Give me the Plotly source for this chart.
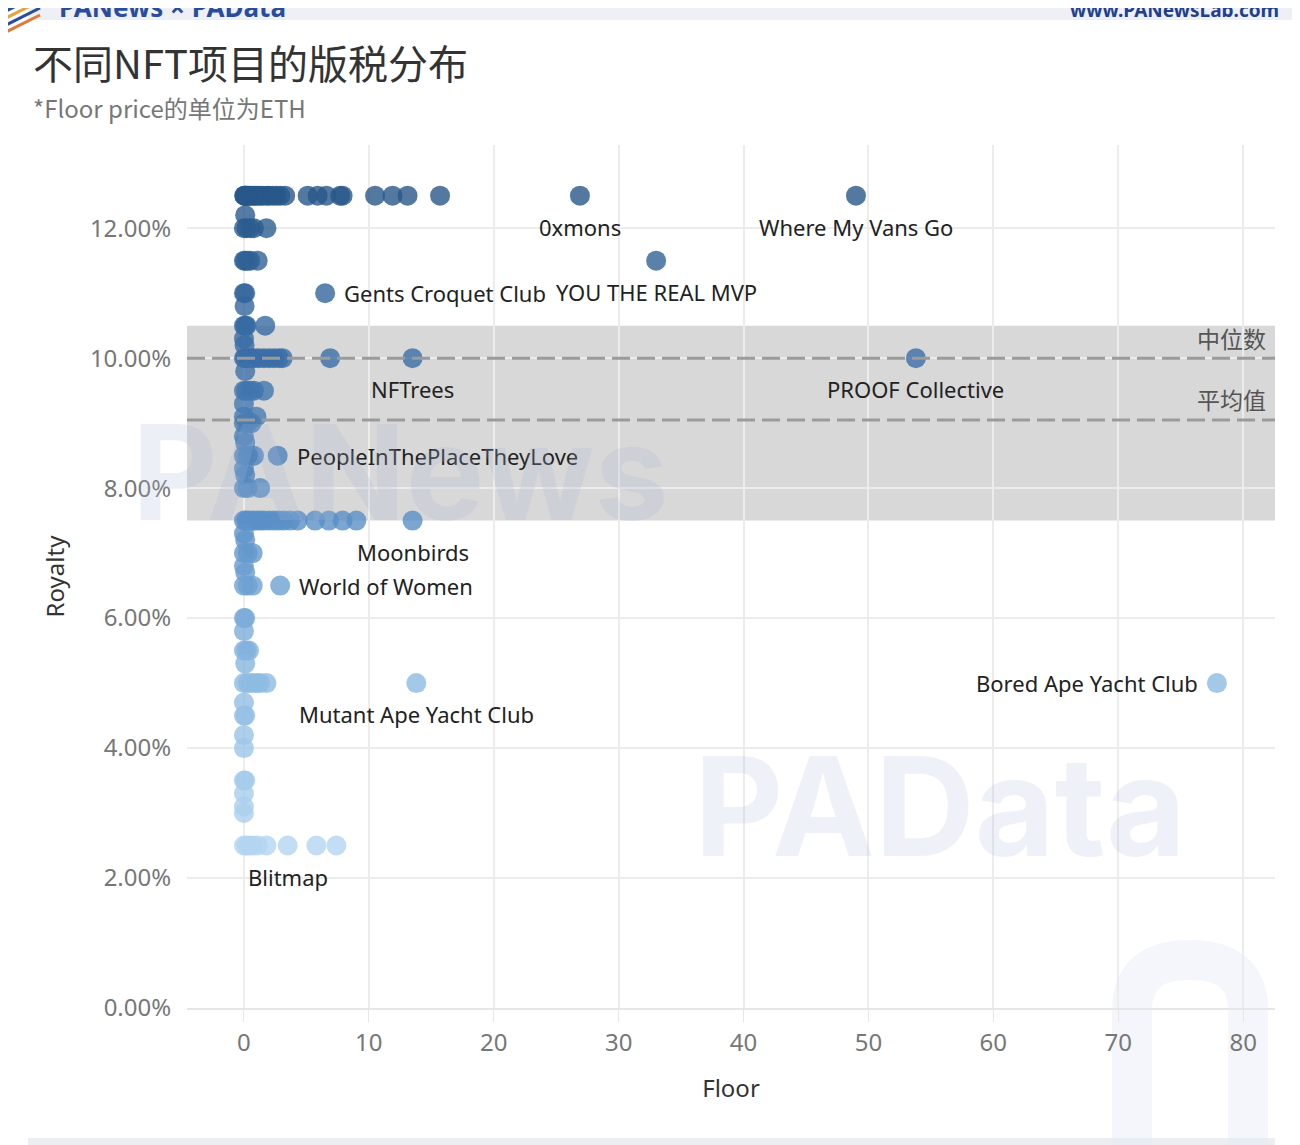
import plotly.graph_objects as go

# ---------------- data (royalty in %, floor in ETH) ----------------
row_royalty = [12.5, 12.2, 12.0, 11.5, 11.0, 10.8, 10.5, 10.3, 10.2, 10.0, 9.8, 9.5, 9.3,
               9.1, 9.0, 8.8, 8.7, 8.5, 8.3, 8.2, 8.0, 7.5, 7.3, 7.2, 7.0, 6.8, 6.7, 6.5,
               6.0, 5.8, 5.5, 5.3, 5.0, 4.7, 4.5, 4.2, 4.0, 3.5, 3.3, 3.1, 3.0, 2.5]
row_floors = [
    [0.02, 0.05, 0.1, 0.15, 0.2, 0.3, 0.4, 0.5, 0.7, 0.9, 1.1, 1.3, 1.5, 1.8, 2.0, 2.3, 2.6,
     2.9, 3.3, 5.1, 5.9, 6.6, 7.7, 7.9, 10.5, 11.9, 13.1, 15.7],
    [0.1],
    [0.0, 0.2, 0.5, 0.8, 1.8],
    [0.0, 0.1, 0.3, 0.5, 1.1],
    [0.0, 0.1],
    [0.05],
    [0.0, 0.1, 0.2, 1.7],
    [0.0],
    [0.05],
    [0.0, 0.1, 0.3, 0.5, 0.8, 1.2, 1.6, 2.0, 2.4, 2.8, 3.1, 6.9],
    [0.1],
    [0.0, 0.2, 0.5, 0.8, 1.6],
    [0.0],
    [0.0, 1.0],
    [0.0, 0.3, 0.6],
    [0.0],
    [0.1],
    [0.0, 0.3, 0.8],
    [0.0],
    [0.1],
    [0.0, 0.3, 1.3],
    [0.0, 0.2, 0.4, 0.7, 1.0, 1.3, 1.6, 2.0, 2.4, 2.8, 3.2, 3.7, 4.3, 5.7, 6.8, 7.9, 9.0],
    [0.0],
    [0.1],
    [0.0, 0.3, 0.7],
    [0.0],
    [0.1],
    [0.0, 0.3, 0.7],
    [0.0, 0.1],
    [0.0],
    [0.0, 0.2, 0.4],
    [0.1],
    [0.0, 0.3, 0.6, 1.0, 1.3, 1.8],
    [0.0],
    [0.0, 0.1],
    [0.0],
    [0.0],
    [0.0, 0.1],
    [0.0],
    [0.0],
    [0.0],
    [0.0, 0.2, 0.4, 0.7, 1.1, 1.8, 5.8, 7.4],
]

project_names = ["0xmons", "Where My Vans Go", "YOU THE REAL MVP", "Gents Croquet Club",
                 "NFTrees", "PROOF Collective", "PeopleInThePlaceTheyLove", "Moonbirds",
                 "World of Women", "Mutant Ape Yacht Club", "Bored Ape Yacht Club", "Blitmap"]
project_floor = [26.9, 49.0, 33.0, 6.5, 13.5, 53.8, 2.7, 13.5, 2.9, 13.8, 77.9, 3.5]
project_royalty = [12.5, 12.5, 11.5, 11.0, 10.0, 10.0, 8.5, 7.5, 6.5, 5.0, 5.0, 2.5]

median_royalty = 10.0
mean_royalty = 9.05
band_low, band_high = 7.5, 10.5

y_ticks = [0, 2, 4, 6, 8, 10, 12]
x_ticks = [0, 10, 20, 30, 40, 50, 60, 70, 80]

# label placement (style)
label_side = {"0xmons": "below", "Where My Vans Go": "below", "YOU THE REAL MVP": "below",
              "Gents Croquet Club": "right", "NFTrees": "below", "PROOF Collective": "below",
              "PeopleInThePlaceTheyLove": "right", "Moonbirds": "below",
              "World of Women": "right", "Mutant Ape Yacht Club": "below",
              "Bored Ape Yacht Club": "left", "Blitmap": "below"}

# ---------------- build ----------------
OFF = 8  # page body margin
W, H = 1300, 1145
# plot area in page pixels: x 187..1275, y 145..1008
L, T = 187 - OFF, 145 - OFF
R = W - (1275 - OFF)
B = H - (1008 - OFF)
PW, PH = W - L - R, H - T - B


def px(xp):
    return (xp - OFF - L) / PW


def py(yp):
    return (H - B - (yp - OFF)) / PH


xs, ys = [], []
for r, fl in zip(row_royalty, row_floors):
    for f in fl:
        xs.append(f)
        ys.append(r / 100)
xs += project_floor
ys += [r / 100 for r in project_royalty]

colorscale = [[0.0, "#b3d5f1"], [0.25, "#8dbbe2"], [0.5, "#5a90c7"],
              [0.75, "#3b6ea8"], [1.0, "#285889"]]

fig = go.Figure()
fig.add_trace(go.Scatter(
    x=xs, y=ys, mode="markers",
    marker=dict(size=20, color=[y * 100 for y in ys], colorscale=colorscale,
                cmin=2.5, cmax=12.5, opacity=0.8, line=dict(width=0)),
    hoverinfo="skip", showlegend=False))

FONT = "Noto Sans, Noto Sans CJK SC, sans-serif"
CJK = "Noto Sans CJK SC, Noto Sans, sans-serif"

ann = []
for n, f, r in zip(project_names, project_floor, project_royalty):
    side = label_side[n]
    a = dict(x=f, y=r / 100, xref="x", yref="y", text=n, showarrow=False,
             font=dict(family=FONT, size=22, color="#222"))
    if side == "below":
        a.update(xanchor="center", yanchor="middle", yshift=-31)
    elif side == "right":
        a.update(xanchor="left", yanchor="middle", xshift=17)
    else:
        a.update(xanchor="right", yanchor="middle", xshift=-17)
    ann.append(a)

# reference line labels
ann.append(dict(x=px(1268), y=median_royalty / 100, xref="paper", yref="y", text="中位数",
                showarrow=False, xanchor="right", yanchor="middle", yshift=20,
                font=dict(family=CJK, size=23, color="#555")))
ann.append(dict(x=px(1268), y=mean_royalty / 100, xref="paper", yref="y", text="平均值",
                showarrow=False, xanchor="right", yanchor="middle", yshift=21,
                font=dict(family=CJK, size=23, color="#555")))

# title & subtitle
ann.append(dict(x=px(31), y=py(62), xref="paper", yref="paper", text="不同NFT项目的版税分布",
                showarrow=False, xanchor="left", yanchor="middle",
                font=dict(family=CJK, size=40, color="#333")))
ann.append(dict(x=px(31), y=py(107), xref="paper", yref="paper", text="*Floor price的单位为ETH",
                showarrow=False, xanchor="left", yanchor="middle",
                font=dict(family=CJK, size=24, color="#777")))

# header texts
ann.append(dict(x=px(57), y=py(7), xref="paper", yref="paper",
                text="<b>PANews × PAData</b>", showarrow=False, xanchor="left", yanchor="middle",
                font=dict(family=FONT, size=26, color="#2a4c9c")))
ann.append(dict(x=px(1281), y=py(10), xref="paper", yref="paper",
                text="<b>www.PANewsLab.com</b>", showarrow=False, xanchor="right", yanchor="middle",
                font=dict(family=FONT, size=19, color="#1f3f8f")))

# watermarks
ann.append(dict(x=px(400), y=py(472), xref="paper", yref="paper", text="<b>PANews</b>",
                showarrow=False, xanchor="center", yanchor="middle",
                font=dict(family="Inter, Noto Sans, sans-serif", size=132,
                          color="rgba(170,185,215,0.22)")))
ann.append(dict(x=px(940), y=py(805), xref="paper", yref="paper", text="<b>PAData</b>",
                showarrow=False, xanchor="center", yanchor="middle",
                font=dict(family="Inter, Noto Sans, sans-serif", size=138,
                          color="rgba(170,185,215,0.20)")))

shapes = [
    # reference band
    dict(type="rect", xref="paper", yref="y", x0=0, x1=1, y0=band_low / 100, y1=band_high / 100,
         fillcolor="#d8d8d8", line=dict(width=0), layer="below"),
    # zero line x=0
    dict(type="line", xref="x", yref="paper", x0=0, x1=0, y0=0, y1=1,
         line=dict(color="#b0b0b0", width=1.5, dash="dot"), layer="below"),
    # median & mean
    dict(type="line", xref="paper", yref="y", x0=0, x1=1, y0=median_royalty / 100,
         y1=median_royalty / 100, line=dict(color="#9b9b9b", width=3, dash="18px,7px"),
         layer="above"),
    dict(type="line", xref="paper", yref="y", x0=0, x1=1, y0=mean_royalty / 100,
         y1=mean_royalty / 100, line=dict(color="#9b9b9b", width=3, dash="18px,7px"),
         layer="above"),
    # header bar
    dict(type="rect", xref="paper", yref="paper", x0=px(28), x1=px(1300), y0=py(20), y1=py(-10),
         fillcolor="#eef0f5", line=dict(width=0), layer="below"),
    # footer bar
    dict(type="rect", xref="paper", yref="paper", x0=px(28), x1=px(1275), y0=py(1150), y1=py(1138),
         fillcolor="#eceef2", line=dict(width=0), layer="below"),
    # bottom right arch watermark
    dict(type="path", xref="paper", yref="paper",
         path=f"M {px(1132)} {py(1145)} L {px(1132)} {py(1010)} "
              f"Q {px(1132)} {py(960)} {px(1190)} {py(960)} "
              f"Q {px(1248)} {py(960)} {px(1248)} {py(1010)} L {px(1248)} {py(1145)}",
         line=dict(color="rgba(228,233,245,0.4)", width=40), layer="below"),
]
# logo stripes top-left
for i, c in enumerate(["#2a4c9c", "#e8a33a", "#2a4c9c", "#e07a3a"]):
    shapes.append(dict(type="line", xref="paper", yref="paper",
                       x0=px(0), y0=py(14 + i * 7), x1=px(40), y1=py(-6 + i * 7),
                       line=dict(color=c, width=3)))

fig.update_layout(
    width=W, height=H,
    margin=dict(l=L, r=R, t=T, b=B),
    plot_bgcolor="white", paper_bgcolor="white",
    font=dict(family=FONT, color="#666"),
    annotations=ann, shapes=shapes,
    xaxis=dict(range=[-4.56, 82.55], tickvals=x_ticks, showgrid=True, gridcolor="#ececec",
               gridwidth=1.5, zeroline=False, showline=True, linecolor="#e6e6e6", linewidth=1.5,
               ticks="outside", ticklen=12, tickcolor="#e6e6e6",
               tickfont=dict(family=FONT, size=24, color="#777"),
               title=dict(text="Floor", font=dict(family=FONT, size=24, color="#333"), standoff=24)),
    yaxis=dict(range=[0, 0.1328], tickvals=[v / 100 for v in y_ticks], tickformat=".2%",
               showgrid=True, gridcolor="#ececec", gridwidth=1.5, zeroline=False,
               ticks="outside", ticklen=10, tickcolor="rgba(0,0,0,0)",
               tickfont=dict(family=FONT, size=24, color="#777"),
               title=dict(text="Royalty", font=dict(family=FONT, size=24, color="#333"), standoff=18)),
)

fig.write_html("out.html")
